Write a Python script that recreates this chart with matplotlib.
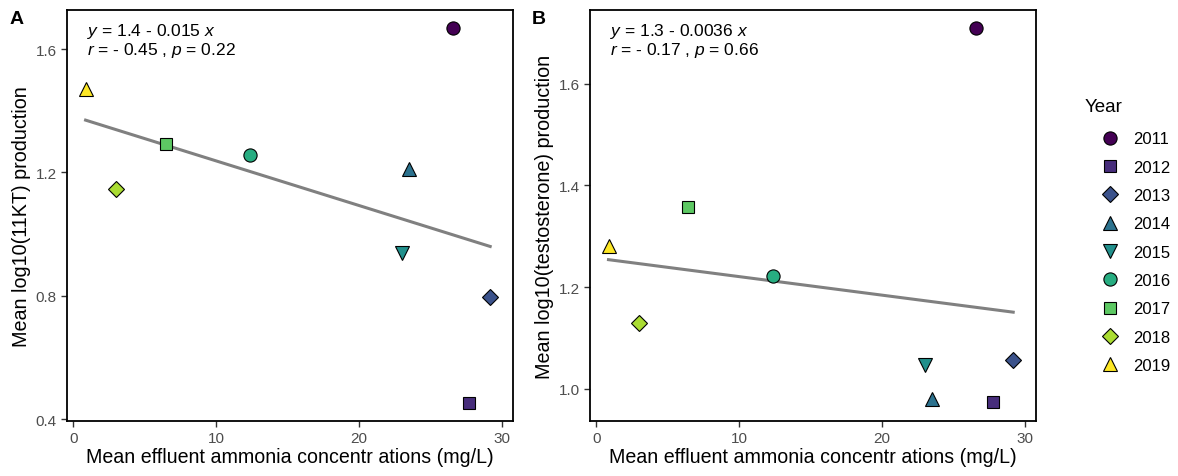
import numpy as np
import matplotlib
matplotlib.use("Agg")
import matplotlib.pyplot as plt
from matplotlib.lines import Line2D

plt.rcParams['font.family'] = ['Liberation Sans', 'DejaVu Sans']
plt.rcParams['mathtext.fontset'] = 'custom'
plt.rcParams['mathtext.rm'] = 'Liberation Sans'
plt.rcParams['mathtext.it'] = 'Liberation Sans:italic'

# data
years = ['2011', '2012', '2013', '2014', '2015', '2016', '2017', '2018', '2019']
ammonia = [26.6, 27.75, 29.2, 23.5, 23.05, 12.4, 6.45, 3.0, 0.85]
kt11 = [1.668, 0.452, 0.797, 1.21, 0.939, 1.258, 1.291, 1.145, 1.47]
testo = [1.710, 0.974, 1.057, 0.98, 1.047, 1.222, 1.358, 1.13, 1.281]

colors = ['#440154', '#472D7B', '#3B528B', '#2C728E', '#21908C',
          '#27AD81', '#5DC863', '#AADC32', '#FDE725']
markers = ['o', 's', 'D', '^', 'v', 'o', 's', 'D', '^']
msizes = [9.5, 8.5, 8, 10, 10, 9.5, 8.5, 8, 10]

eq_a = ['$y$ = 1.4 - 0.015 $x$', '$r$ = - 0.45 , $p$ = 0.22']
eq_b = ['$y$ = 1.3 - 0.0036 $x$', '$r$ = - 0.17 , $p$ = 0.66']

fig = plt.figure(figsize=(11.78, 4.77), dpi=100)
axA = fig.add_axes([0.0569, 0.1153, 0.3786, 0.8617])
axB = fig.add_axes([0.5008, 0.1153, 0.3787, 0.8617])


def panel(ax, yvals, eq, ylabel, ylim, yticks):
    x = np.array(ammonia)
    y = np.array(yvals)
    slope, icpt = np.polyfit(x, y, 1)
    xs = np.array([x.min(), x.max()])
    ax.plot(xs, icpt + slope * xs, color='#808080', lw=2.2, zorder=2)
    for i in range(len(years)):
        ax.plot(x[i], y[i], marker=markers[i], ms=msizes[i], mfc=colors[i],
                mec='black', mew=0.8, ls='none', zorder=3)
    ax.set_xlim(-0.45, 30.8)
    ax.set_ylim(*ylim)
    ax.set_xticks([0, 10, 20, 30])
    ax.set_yticks(yticks)
    ax.set_yticklabels(['%.1f' % t for t in yticks])
    ax.tick_params(colors='#333333', labelcolor='#4D4D4D', labelsize=11,
                   length=4, width=1)
    for s in ax.spines.values():
        s.set_linewidth(1.3)
        s.set_color('black')
    ax.set_xlabel('Mean effluent ammonia concentr ations (mg/L)', fontsize=14.1,
                  labelpad=1)
    ax.set_ylabel(ylabel, fontsize=14.2, labelpad=3)
    ax.text(0.045, 0.972, eq[0], transform=ax.transAxes, fontsize=12.5,
            va='top', ha='left')
    ax.text(0.045, 0.926, eq[1], transform=ax.transAxes, fontsize=12.5,
            va='top', ha='left')


panel(axA, kt11, eq_a, 'Mean log10(11KT) production', (0.394, 1.727),
      [0.4, 0.8, 1.2, 1.6])
panel(axB, testo, eq_b, 'Mean log10(testosterone) production', (0.937, 1.745),
      [1.0, 1.2, 1.4, 1.6])

fig.text(10 / 1178, 1 - 20 / 477, 'A', fontsize=14, fontweight='bold', va='center')
fig.text(532 / 1178, 1 - 20 / 477, 'B', fontsize=14, fontweight='bold', va='center')

handles = [Line2D([], [], marker=markers[i], ms=msizes[i], mfc=colors[i],
                  mec='black', mew=0.8, ls='none') for i in range(len(years))]
leg = fig.legend(handles, years, title='Year', loc='upper left',
                 bbox_to_anchor=(1078 / 1178, 1 - 92 / 477), frameon=False,
                 fontsize=12, title_fontsize=13.5, labelspacing=0.8,
                 handlelength=3.0, handletextpad=-0.1, borderaxespad=0)
leg._legend_box.align = 'left'
leg._legend_box.sep = 12

fig.savefig('out.png', dpi=100)
